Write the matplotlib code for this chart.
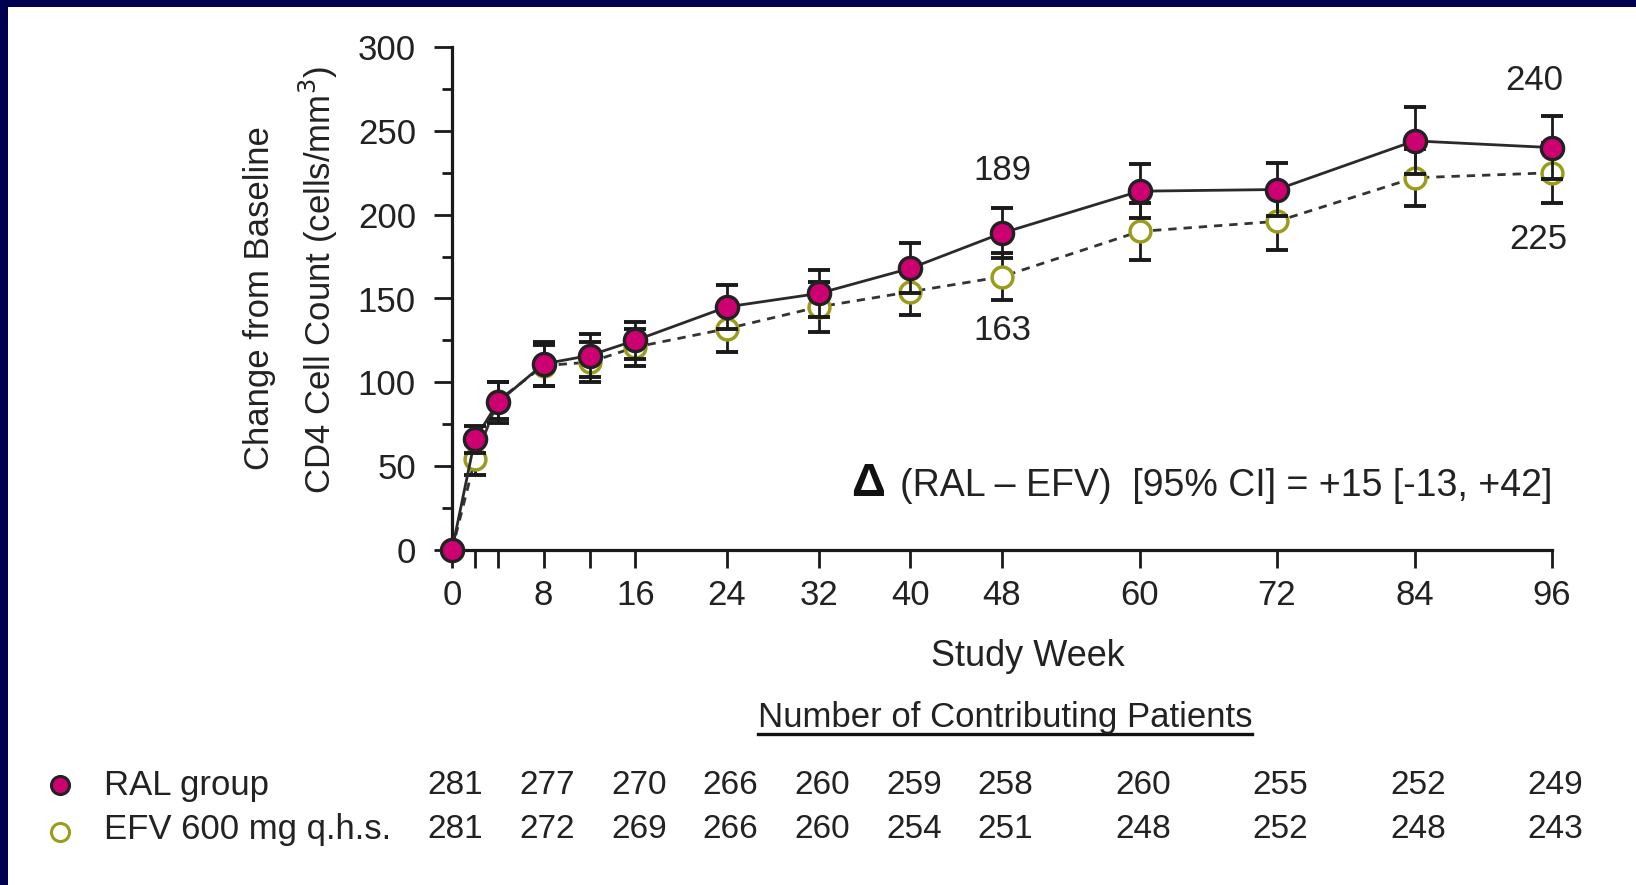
import matplotlib
import numpy as np

matplotlib.use('Agg')
import matplotlib.pyplot as plt
from matplotlib.patches import Rectangle
from matplotlib.lines import Line2D
from matplotlib.transforms import blended_transform_factory

plt.rcParams['font.family'] = ['Liberation Sans', 'DejaVu Sans']

# data
weeks = [0, 2, 4, 8, 12, 16, 24, 32, 40, 48, 60, 72, 84, 96]
ral = [0, 66, 88, 111, 116, 125, 145, 153, 168, 189, 214, 215, 244, 240]
ral_err = [0, 8, 12, 13, 13, 11, 13, 14, 15, 15, 16, 16, 20, 19]
efv = [0, 54, 89, 110, 112, 121, 132, 145, 154, 163, 190, 196, 222, 225]
efv_err = [0, 9, 11, 12, 12, 11, 14, 15, 14, 14, 17, 17, 17, 18]

label_weeks = [0, 8, 16, 24, 32, 40, 48, 60, 72, 84, 96]
n_ral = [281, 277, 270, 266, 260, 259, 258, 260, 255, 252, 249]
n_efv = [281, 272, 269, 266, 260, 254, 251, 248, 252, 248, 243]

ral_name = 'RAL group'
efv_name = 'EFV 600 mg q.h.s.'

W, H = 1636, 885
NAVY = '#000050'
MAGENTA = '#cc0070'
OLIVE = '#9c9c1c'
TXT = '#222222'
FS = 25


def fx(px):
    return px / W


def fy(py):
    return 1 - py / H


fig = plt.figure(figsize=(W / 100, H / 100), dpi=100)
fig.patch.set_facecolor('white')
ax = fig.add_axes([fx(452), fy(550), fx(1552) - fx(452), fy(47) - fy(550)])

w = np.array(weeks)
ral_a, ral_e = np.array(ral), np.array(ral_err)
efv_a, efv_e = np.array(efv), np.array(efv_err)
m_r = ral_e > 0
m_e = efv_e > 0

# EFV first so RAL sits on top
ax.plot(w, efv_a, color='#333333', lw=2, ls=(0, (3, 2.5)), zorder=2, clip_on=False)
ax.errorbar(w[m_e], efv_a[m_e], yerr=efv_e[m_e], fmt='none', ecolor='#1a1a1a',
            elinewidth=2, capsize=8, capthick=2.8, zorder=3, clip_on=False)
ax.plot(w, efv_a, 'o', ms=15, mfc='white', mec=OLIVE, mew=2.5, zorder=4, clip_on=False)

ax.plot(w, ral_a, color='#2a2a2a', lw=2, zorder=5, clip_on=False)
ax.errorbar(w[m_r], ral_a[m_r], yerr=ral_e[m_r], fmt='none', ecolor='#1a1a1a',
            elinewidth=2, capsize=8, capthick=2.8, zorder=6, clip_on=False)
ax.plot(w, ral_a, 'o', ms=16, mfc=MAGENTA, mec='#222222', mew=2.4, zorder=7, clip_on=False)

ax.set_xlim(0, 96)
ax.set_ylim(0, 300)
ax.set_xticks([0, 2, 4, 8, 12, 16, 24, 32, 40, 48, 60, 72, 84, 96])
ax.set_xticklabels(['0', '', '', '8', '', '16', '24', '32', '40', '48', '60', '72', '84', '96'])
ax.set_yticks(range(0, 301, 50))
ax.set_yticks(range(25, 300, 50), minor=True)
ax.tick_params(axis='both', which='major', length=13, width=2, color='#1a1a1a',
               labelsize=FS, labelcolor=TXT)
ax.tick_params(axis='y', which='major', pad=13)
ax.tick_params(axis='x', which='major', pad=8)
ax.tick_params(axis='y', which='minor', length=7, width=2, color='#1a1a1a')
for s in ['top', 'right']:
    ax.spines[s].set_visible(False)
for s in ['left', 'bottom']:
    ax.spines[s].set_linewidth(2.3)
    ax.spines[s].set_color('#1a1a1a')

# value labels
ax.annotate('189', (48, 189), xytext=(0, 63), textcoords='offset pixels',
            ha='center', va='center', fontsize=FS, color=TXT)
ax.annotate('163', (48, 163), xytext=(0, -54), textcoords='offset pixels',
            ha='center', va='center', fontsize=FS, color=TXT)
ax.annotate('240', (96, 240), xytext=(-18, 67), textcoords='offset pixels',
            ha='center', va='center', fontsize=FS, color=TXT)
ax.annotate('225', (96, 225), xytext=(-14, -67), textcoords='offset pixels',
            ha='center', va='center', fontsize=FS, color=TXT)

# delta text
fig.text(fx(1552), fy(486), '(RAL – EFV)  [95% CI] = +15 [-13, +42]', ha='right',
         va='center', fontsize=27, color=TXT)
fig.text(fx(868), fy(484), 'Δ', ha='center', va='center', fontsize=34,
         fontweight='bold', color='#111111')

# axis labels
fig.text(fx(259), fy(298), 'Change from Baseline', rotation=90, ha='center',
         va='center', fontsize=FS, color=TXT)
fig.text(fx(318), fy(280), 'CD4 Cell Count (cells/mm$^3$)', rotation=90, ha='center',
         va='center', fontsize=FS, color=TXT)
fig.text(fx(1028), fy(657), 'Study Week', ha='center', va='center', fontsize=26, color=TXT)

hdr = fig.text(fx(1005), fy(717), 'Number of Contributing Patients', ha='center',
               va='center', fontsize=FS, color=TXT)
fig.canvas.draw()
bb = hdr.get_window_extent().transformed(fig.transFigure.inverted())
fig.add_artist(Line2D([bb.x0, bb.x1], [bb.y0 - 0.001, bb.y0 - 0.001], color='#111111',
                      lw=2.4, transform=fig.transFigure))

# patients table
tr = blended_transform_factory(ax.transData, fig.transFigure)
for wk, a, b in zip(label_weeks, n_ral, n_efv):
    fig.text(wk + 0.3, fy(786), str(a), transform=tr, ha='center', va='center',
             fontsize=24, color=TXT)
    fig.text(wk + 0.3, fy(830), str(b), transform=tr, ha='center', va='center',
             fontsize=24, color=TXT)

fig.add_artist(Line2D([fx(60)], [fy(785)], marker='o', ms=13, mfc=MAGENTA, mec='#222222',
                      mew=2.2, transform=fig.transFigure))
fig.add_artist(Line2D([fx(60)], [fy(832)], marker='o', ms=13, mfc='white', mec=OLIVE,
                      mew=2.2, transform=fig.transFigure))
fig.text(fx(104), fy(786), ral_name, ha='left', va='center', fontsize=FS, color=TXT)
fig.text(fx(104), fy(830), efv_name, ha='left', va='center', fontsize=FS, color=TXT)

# navy frame on top and left
fig.add_artist(Rectangle((0, fy(7)), 1, 7 / H, transform=fig.transFigure,
                         color=NAVY, lw=0, zorder=10))
fig.add_artist(Rectangle((0, 0), 8 / W, 1, transform=fig.transFigure,
                         color=NAVY, lw=0, zorder=10))

fig.savefig('out.png', dpi=100)
